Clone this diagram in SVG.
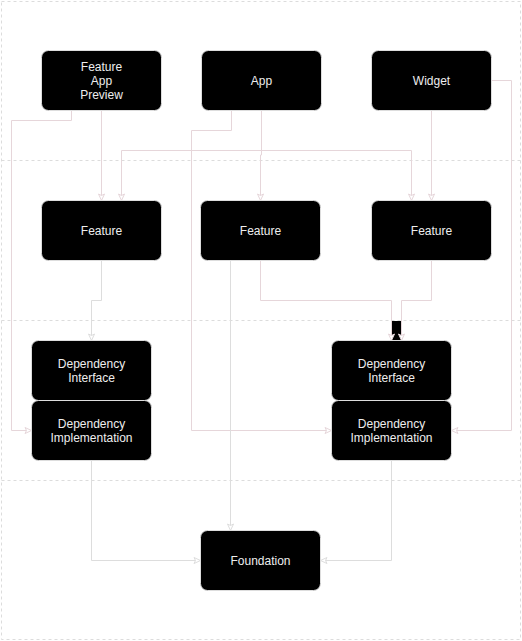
<svg xmlns="http://www.w3.org/2000/svg" width="522" height="641" viewBox="0 0 522 641">
<style>
.lane{fill:none;stroke:#dcdcdc;stroke-width:1;stroke-dasharray:3 3}
.node rect{fill:#000;stroke:#dddddd;stroke-width:1}
.node text{fill:#eeeeee;font-family:"Liberation Sans",Arial,sans-serif;font-size:12px;text-anchor:middle}
.ep{fill:none;stroke:#e6d6da;stroke-width:1;marker-end:url(#arrP)}
.eg{fill:none;stroke:#dddddd;stroke-width:1;marker-end:url(#arrG)}
</style>
<defs>
<marker id="arrP" viewBox="0 0 8 8" refX="7.5" refY="4" markerWidth="8" markerHeight="8" markerUnits="userSpaceOnUse" orient="auto">
<path d="M1,1 L7.5,4 L1,7 L2.5,4 Z" fill="#fff" stroke="#e6d6da" stroke-width="1"/>
</marker>
<marker id="arrG" viewBox="0 0 8 8" refX="7.5" refY="4" markerWidth="8" markerHeight="8" markerUnits="userSpaceOnUse" orient="auto">
<path d="M1,1 L7.5,4 L1,7 L2.5,4 Z" fill="#fff" stroke="#dddddd" stroke-width="1"/>
</marker>
</defs>
<rect width="522" height="641" fill="#fff"/>
<g id="lanes">
<rect class="lane" x="1.5" y="1.5" width="519" height="638"/>
<line class="lane" x1="1.5" y1="160.5" x2="520.5" y2="160.5"/>
<line class="lane" x1="1.5" y1="320.5" x2="520.5" y2="320.5"/>
<line class="lane" x1="1.5" y1="480.5" x2="520.5" y2="480.5"/>
</g>
<g id="connectors">
<rect x="392" y="321" width="9" height="19" fill="#000"/>
<path class="ep" d="M71.5,110.5 V120.5 H11.5 V430.5 H31.5"/>
<path class="ep" d="M101.5,110.5 V200.5"/>
<path class="ep" d="M231.5,110.5 V130.5 H191.5 V430.5 H331.5"/>
<path class="ep" d="M261.5,110.5 V155 H260.5 V200.5"/>
<path class="ep" d="M261.5,110.5 V150.5 H121.5 V200.5"/>
<path class="ep" d="M261.5,150.5 H411.5 V200.5"/>
<path class="ep" d="M431.5,110.5 V200.5"/>
<path class="ep" d="M491.5,80.5 H511.5 V430.5 H451.5"/>
<path class="eg" d="M101.5,260.5 V300.5 H91.5 V340.5"/>
<path class="eg" d="M230.5,260.5 V530.5"/>
<path class="ep" d="M260.5,260.5 V300.5 H391.5 V340.5"/>
<path class="ep" d="M431.5,260.5 V300.5 H401.5 V340.5"/>
<path class="eg" d="M91.5,460.5 V560.5 H200.5"/>
<path class="eg" d="M391.5,460.5 V560.5 H320.5"/>
</g>
<g id="feature-app-preview" class="node"><rect x="41.5" y="50.5" width="120" height="60" rx="7"/><text x="101.5" y="71">Feature</text><text x="101.5" y="85">App</text><text x="101.5" y="99">Preview</text></g>
<g id="app" class="node"><rect x="201.5" y="50.5" width="120" height="60" rx="7"/><text x="261.5" y="85">App</text></g>
<g id="widget" class="node"><rect x="371.5" y="50.5" width="120" height="60" rx="7"/><text x="431.5" y="85">Widget</text></g>
<g id="feature-1" class="node"><rect x="41.5" y="200.5" width="120" height="60" rx="7"/><text x="101.5" y="235">Feature</text></g>
<g id="feature-2" class="node"><rect x="200.5" y="200.5" width="120" height="60" rx="7"/><text x="260.5" y="235">Feature</text></g>
<g id="feature-3" class="node"><rect x="371.5" y="200.5" width="120" height="60" rx="7"/><text x="431.5" y="235">Feature</text></g>
<g id="dep-interface-1" class="node"><rect x="31.5" y="340.5" width="120" height="60" rx="7"/><text x="91.5" y="368">Dependency</text><text x="91.5" y="382">Interface</text></g>
<g id="dep-impl-1" class="node"><rect x="31.5" y="400.5" width="120" height="60" rx="7"/><text x="91.5" y="428">Dependency</text><text x="91.5" y="442">Implementation</text></g>
<g id="dep-interface-2" class="node"><rect x="331.5" y="340.5" width="120" height="60" rx="7"/><text x="391.5" y="368">Dependency</text><text x="391.5" y="382">Interface</text></g>
<g id="dep-impl-2" class="node"><rect x="331.5" y="400.5" width="120" height="60" rx="7"/><text x="391.5" y="428">Dependency</text><text x="391.5" y="442">Implementation</text></g>
<g id="foundation" class="node"><rect x="200.5" y="530.5" width="120" height="60" rx="7"/><text x="260.5" y="565">Foundation</text></g>
</svg>
